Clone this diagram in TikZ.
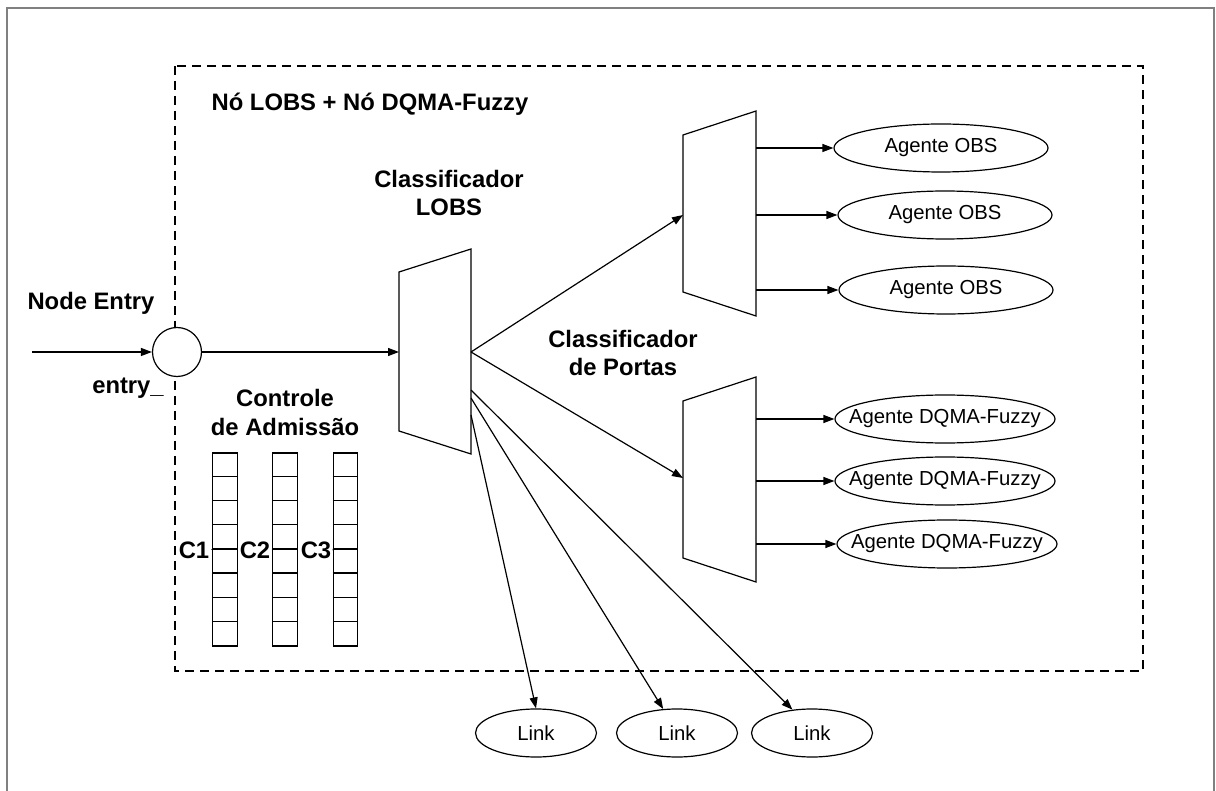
\documentclass[tikz,border=0pt]{standalone}
\usepackage{fontspec}
\setmainfont{Liberation Sans}
\usetikzlibrary{arrows.meta,shapes.geometric}

\begin{document}
\begin{tikzpicture}[x=1pt,y=-1pt,line width=1.2pt,
	arr/.style={-{Triangle[length=11pt,width=8pt]}},
	bold/.style={font=\fontsize{23.8}{28}\selectfont\bfseries,align=center,inner sep=2pt},
	txt/.style={font=\fontsize{20.3}{24}\selectfont,inner sep=0pt},
	agent/.style={draw,ellipse,minimum width=214,minimum height=48,inner sep=0pt,label={[txt]center:#1}},
	linkel/.style={draw,ellipse,minimum width=121,minimum height=48,inner sep=0pt,label={[txt]center:Link}}]

	\useasboundingbox (0,0) rectangle (1216,791);
	\draw[gray,line width=2.5pt] (7,791) -- (7,8) -- (1214,8) -- (1214,791);

	% caixa do no
	\draw[dash pattern=on 9pt off 6pt] (175,66) rectangle (1143,671);
	\node[bold] (lblNo) at (370,104) {Nó LOBS + Nó DQMA-Fuzzy};

	% entrada
	\node[bold] (lblEntry) at (91,303) {Node Entry};
	\node[draw,circle,fill=white,minimum size=49,inner sep=0pt] (entry) at (177,352) {};
	\node[bold] (lblEntryU) at (128,388) {entry\_};
	\coordinate (src) at (32,352);
	\draw[arr] (src) -- (entry);

	% controle de admissao
	\node[bold,font=\fontsize{23.8}{29}\selectfont\bfseries] (lblAdm) at (285,412) {Controle\\de Admissão};
	\foreach \q/\x in {1/225,2/285,3/345.5} {
		\node[draw,minimum width=24.5,minimum height=193,inner sep=0pt] (q\q) at (\x,549.5) {};
		\foreach \k in {1,...,7}
			\draw (q\q.north west) ++(0,\k*24.125) -- ++(24.5,0);
	}
	\node[bold] (c1) at (194,550) {C1};
	\node[bold] (c2) at (255,550) {C2};
	\node[bold] (c3) at (316,550) {C3};
	\draw (c1.east) -- (q1.west);
	\draw (c2.east) -- (q2.west);
	\draw (c3.east) -- (q3.west);

	% classificador LOBS
	\node[bold] (lblLobs) at (449,193) {Classificador\\LOBS};
	\draw (399,272) -- (471,249) -- (471,454) -- (399,431) -- cycle;
	\coordinate (lobsIn) at (399,352);
	\coordinate (lobsOut) at (471,352);
	\draw[arr] (entry) -- (lobsIn);

	% classificadores de portas
	\node[bold] (lblPortas) at (623,353) {Classificador\\de Portas};
	\draw (683,135) -- (756,111) -- (756,316) -- (683,292) -- cycle;
	\coordinate (portAin) at (683,215);
	\coordinate (portAout) at (756,215);
	\draw (683,401) -- (756,377) -- (756,582) -- (683,558) -- cycle;
	\coordinate (portBin) at (683,478);
	\coordinate (portBout) at (756,478);
	\draw[arr] (lobsOut) -- (portAin);
	\draw[arr] (lobsOut) -- (portBin);

	% agentes
	\node[agent=Agente OBS] (obs1) at (941,148) {};
	\node[agent=Agente OBS] (obs2) at (945,215) {};
	\node[agent=Agente OBS] (obs3) at (946,290) {};
	\node[agent=Agente DQMA-Fuzzy,minimum width=220] (dq1) at (945,419) {};
	\node[agent=Agente DQMA-Fuzzy,minimum width=220] (dq2) at (945,481) {};
	\node[agent=Agente DQMA-Fuzzy,minimum width=220] (dq3) at (947,544) {};
	\foreach \a in {obs1,obs2,obs3}
		\draw[arr] (\a.west -| portAout) -- (\a.west);
	\foreach \a in {dq1,dq2,dq3}
		\draw[arr] (\a.west -| portBout) -- (\a.west);

	% links
	\node[linkel] (link1) at (536,733) {};
	\node[linkel] (link2) at (677,733) {};
	\node[linkel] (link3) at (812,733) {};
	\coordinate (lo1) at (471,415);
	\coordinate (lo2) at (471,398);
	\coordinate (lo3) at (471,390);
	\draw[arr] (lo1) -- (link1.north);
	\draw[arr] (lo2) -- (link2.120);
	\draw[arr] (lo3) -- (link3.130);

\end{tikzpicture}
\end{document}
